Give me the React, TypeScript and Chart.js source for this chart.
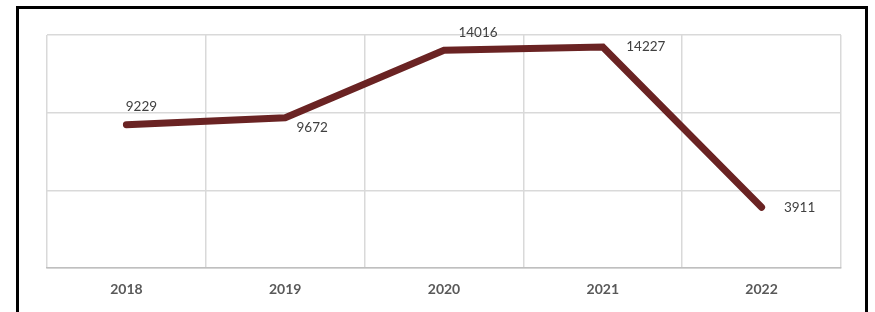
import React, { useEffect, useRef } from "react";
import { Chart, registerables } from "chart.js";

Chart.register(...registerables);

const years = ["2018", "2019", "2020", "2021", "2022"];
const counts = [9229, 9672, 14016, 14227, 3911];
const yTicks = [0, 5000, 10000, 15000];

const labelOffsets = [
  [15, -18],
  [27, 10],
  [34, -18],
  [43, 0],
  [38, 0],
];

const valueLabels = {
  id: "valueLabels",
  afterDatasetsDraw(chart: any) {
    const ctx = chart.ctx;
    const meta = chart.getDatasetMeta(0);
    ctx.save();
    ctx.font = "13.5px Lato, 'Open Sans', sans-serif";
    ctx.fillStyle = "#404040";
    ctx.textAlign = "center";
    ctx.textBaseline = "middle";
    meta.data.forEach((pt: any, i: number) => {
      const [dx, dy] = labelOffsets[i];
      ctx.fillText(String(counts[i]), pt.x + dx, pt.y + dy);
    });
    ctx.restore();
  },
};

export default function App() {
  const ref = useRef<HTMLCanvasElement>(null);
  useEffect(() => {
    const chart = new Chart(ref.current!, {
      type: "line",
      data: {
        labels: years,
        datasets: [
          {
            data: counts,
            borderColor: "#6A2323",
            borderWidth: 7,
            borderCapStyle: "round",
            borderJoinStyle: "miter",
            pointRadius: 0,
            tension: 0,
          },
        ],
      },
      options: {
        animation: false,
        responsive: false,
        maintainAspectRatio: false,
        layout: { padding: { left: 47, right: 34, top: 35, bottom: 0 } },
        plugins: { legend: { display: false }, tooltip: { enabled: false } },
        scales: {
          x: {
            offset: true,
            grid: { offset: true, color: "#D9D9D9", lineWidth: 1.5, drawTicks: false },
            border: { color: "#BFBFBF", width: 1.5 },
            afterFit: (axis: any) => {
              axis.height = 44;
            },
            ticks: {
              padding: 13,
              color: "#595959",
              font: { family: "Lato, 'Open Sans', sans-serif", size: 14, weight: "bold" },
            },
          },
          y: {
            min: yTicks[0],
            max: yTicks[yTicks.length - 1],
            afterBuildTicks: (axis: any) => {
              axis.ticks = yTicks.map((v) => ({ value: v }));
            },
            afterFit: (axis: any) => {
              axis.width = 0;
            },
            grid: { color: "#D9D9D9", lineWidth: 1.5, drawTicks: false },
            border: { display: false },
            ticks: { display: false },
          },
        },
      },
      plugins: [valueLabels],
    });
    return () => chart.destroy();
  }, []);

  return (
    <div style={{ position: "absolute", left: 0, top: 0, width: 875, height: 312, overflow: "hidden", background: "#fff" }}>
      <div
        style={{
          position: "absolute",
          left: 16,
          top: 6,
          width: 846,
          height: 340,
          border: "3px solid #000",
        }}
      />
      <canvas ref={ref} width={875} height={312} style={{ position: "absolute", left: 0, top: 0 }} />
    </div>
  );
}
